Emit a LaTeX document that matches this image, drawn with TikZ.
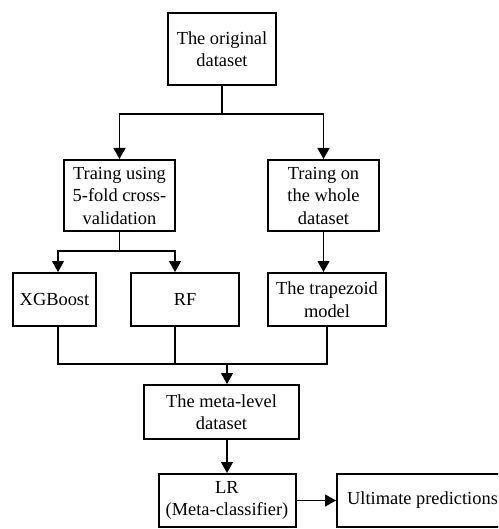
\documentclass[tikz,border=0pt]{standalone}
\usepackage{fontspec}
\setmainfont{Liberation Serif}
\usetikzlibrary{arrows.meta}
\tikzset{
  box/.style = {draw,line width=2pt,align=center,inner sep=0pt,
    font=\fontsize{18.4}{22.5}\selectfont},
  link/.style = {line width=1.3pt}
}
\tikzset{>={Triangle[width=12pt,length=11pt]}}

\begin{document}
\begin{tikzpicture}[x=1pt,y=-1pt]
  \useasboundingbox (0,0) rectangle (498,529);
  \clip (0,0) rectangle (498,529);
  % boxes
  \node[box,minimum width=108pt,minimum height=72pt] (orig) at (222,49) {The original\\dataset};
  \node[box,minimum width=111pt,minimum height=71pt] (cv) at (119.5,195.5) {Traing using\\5-fold cross-\\validation};
  \node[box,minimum width=111pt,minimum height=71pt] (whole) at (323.5,195.5) {Traing on\\the whole\\dataset};
  \node[box,minimum width=83pt,minimum height=53pt] (xgb) at (54.5,299.5) {XGBoost};
  \node[box,minimum width=108pt,minimum height=53pt] (rf) at (185,299.5) {RF};
  \node[box,minimum width=118pt,minimum height=53pt] (trap) at (327,299.5) {The trapezoid\\model};
  \node[box,minimum width=155pt,minimum height=54pt] (meta) at (221.5,412) {The meta-level\\dataset};
  \node[box,minimum width=137pt,minimum height=53pt] (lr) at (227,500.5) {LR\\(Meta-classifier)};
  \node[box,minimum width=171pt,minimum height=53pt] (ult) at (422.5,500.5) {Ultimate predictions};
  % split
  \coordinate (split1) at (222,114);
  \draw[link] (orig.south) -- (split1);
  \draw[link,->] (split1) -| (cv.north);
  \draw[link,->] (split1) -| (whole.north);
  \coordinate (split2) at (119.5,251);
  \draw[link] (cv.south) -- (split2);
  \draw[link,->] (split2) -| ([xshift=3.5pt]xgb.north);
  \draw[link,->] (split2) -| ([xshift=-10pt]rf.north);
  \draw[link,->] (whole.south) -- (whole.south |- trap.north);
  % join
  \coordinate (join) at (227,364);
  \draw[link] ([xshift=3.5pt]xgb.south) |- (join) -| (trap.south);
  \draw[link] ([xshift=-10pt]rf.south) -- ([xshift=-10pt]rf.south |- join);
  \draw[link,->] (join) -- (join |- meta.north);
  \draw[link,->] (lr.north |- meta.south) -- (lr.north);
  \draw[link,->] (lr.east) -- (ult.west);
\end{tikzpicture}
\end{document}
